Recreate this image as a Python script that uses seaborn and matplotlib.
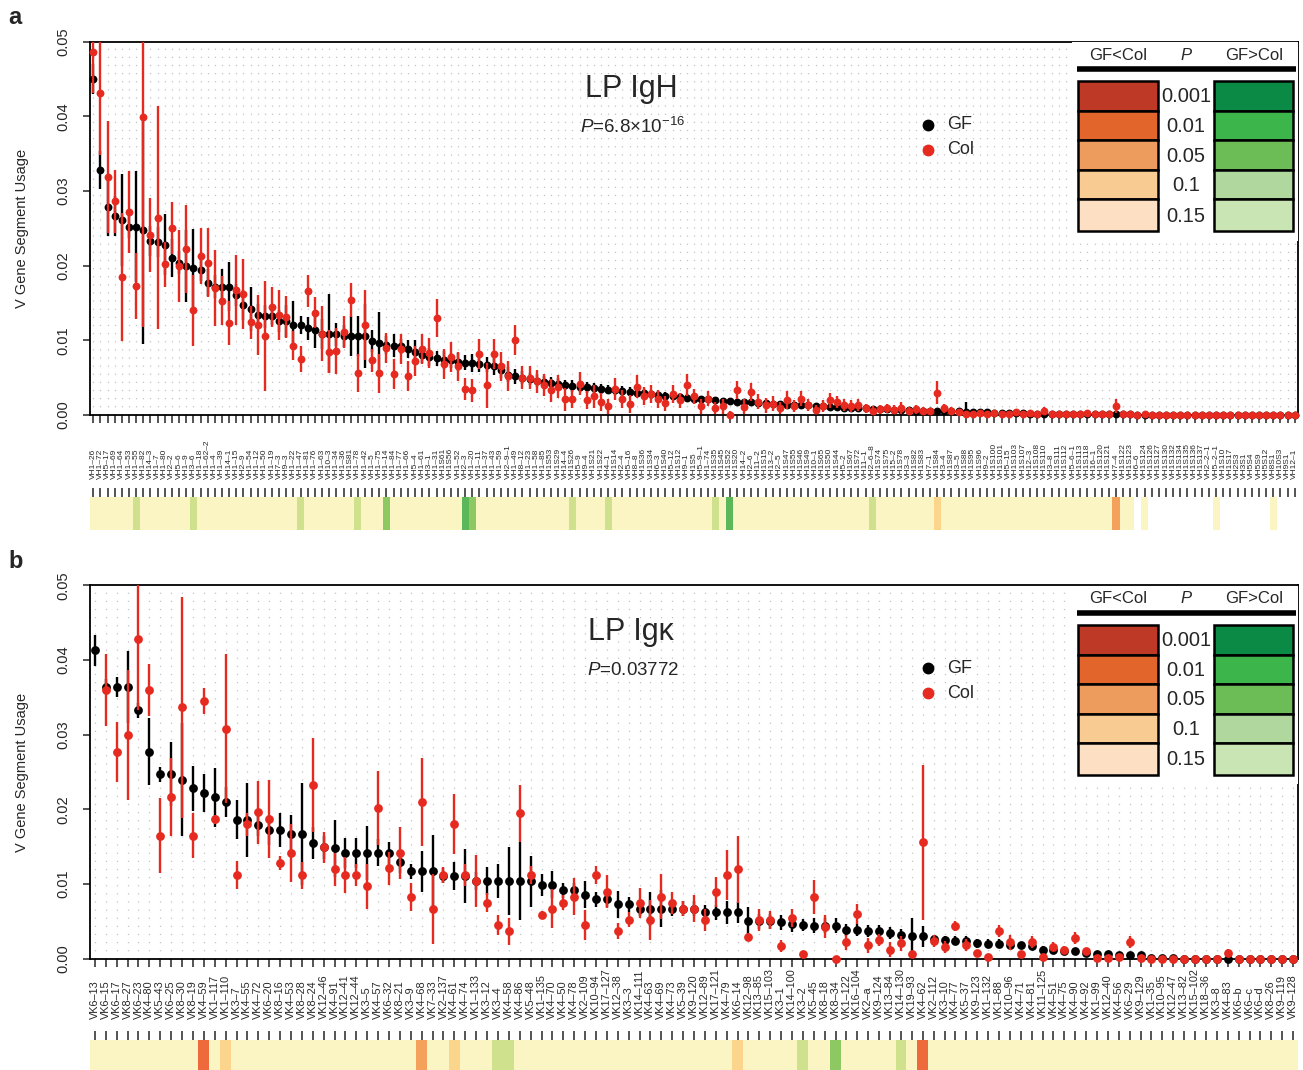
import numpy as np
import pandas as pd
import matplotlib
matplotlib.use("Agg")
import matplotlib.pyplot as plt
import seaborn as sns
from matplotlib.colors import ListedColormap
from matplotlib.patches import Rectangle
from matplotlib.lines import Line2D
import matplotlib.transforms as mtrans

sns.set_style("white")
plt.rcParams['font.family'] = ['Liberation Sans', 'DejaVu Sans']
plt.rcParams['mathtext.fontset'] = 'custom'
plt.rcParams['mathtext.rm'] = 'Liberation Sans'
plt.rcParams['mathtext.it'] = 'Liberation Sans:italic'

# ---------------- Panel a : LP IgH ----------------
genes_a = [
    "VH1-26", "VH1-72", "VH5-17", "VH1-69", "VH1-64", "VH1-53", "VH1-55", "VH1-82", "VH14-3", "VH1-7",
    "VH1-80", "VH2-2", "VH5-6", "VH1-9", "VH3-6", "VH1-18", "VH1-62-2", "VH1-4", "VH1-39", "VH14-1",
    "VH1-15", "VH2-9", "VH1-54", "VH1-12", "VH1-50", "VH1-19", "VH7-3", "VH9-3", "VH1-22", "VH1-47",
    "VH1-81", "VH1-76", "VH1-63", "VH10-3", "VH1-34", "VH1-36", "VH1S81", "VH1-78", "VH1-42", "VH1-5",
    "VH1-75", "VH1-14", "VH1-84", "VH1-77", "VH1-66", "VH5-4", "VH1-61", "VH3-1", "VH1-31", "VH1S61",
    "VH1S56", "VH1-52", "VH2-3", "VH1-20", "VH1-11", "VH1-37", "VH1-43", "VH1-59", "VH2-9-1", "VH1-49",
    "VH8-12", "VH1-23", "VH1-58", "VH1-85", "VH1S53", "VH1S29", "VH14-4", "VH1S26", "VH5-9", "VH9-4",
    "VH1S21", "VH1S22", "VH4-1", "VH1S14", "VH2-4", "VH5-16", "VH8-8", "VH1S36", "VH1S34", "VH6-3",
    "VH1S40", "VH5-12", "VH1S12", "VH9-1", "VH1S5", "VH5-9-1", "VH1-74", "VH1S35", "VH1S45", "VH1S52",
    "VH1S20", "VH14-2", "VH2-6", "VH11-2", "VH1S15", "VH13-2", "VH2-5", "VH1S47", "VH1S55", "VH1S46",
    "VH1S49", "VH10-1", "VH1S65", "VH1S50", "VH1S44", "VH5-2", "VH1S67", "VH1S72", "VH11-1", "VH2-6-8",
    "VH1S74", "VH1S75", "VH15-2", "VH1S78", "VH3-3", "VH1S82", "VH1S83", "VH7-1", "VH1S84", "VH3-4",
    "VH1S87", "VH3-5", "VH1S88", "VH1S95", "VH1S96", "VH9-2", "VH1S100", "VH1S101", "VH5-15", "VH1S103",
    "VH1S107", "VH12-3", "VH1S108", "VH1S110", "VH3-8", "VH1S111", "VH1S112", "VH5-6-1", "VH1S113", "VH1S118",
    "VH16-1", "VH1S120", "VH1S121", "VH7-4", "VH1S122", "VH1S123", "VH6-6", "VH1S124", "VH1S126", "VH1S127",
    "VH1S130", "VH1S132", "VH1S134", "VH1S135", "VH1S136", "VH1S137", "VH2-2-1", "VH5-2-1", "VH1S10", "VH1S17",
    "VH2S3", "VH3S1", "VH5S4", "VH5S9", "VH5S12", "VH8S1", "VH10S3", "VH9S1", "VH12-1",
]

gf_a = [
    0.0450, 0.0328, 0.0278, 0.0266, 0.0261, 0.0252, 0.0252, 0.0247, 0.0233, 0.0232,
    0.0228, 0.0210, 0.0204, 0.0199, 0.0197, 0.0194, 0.0177, 0.0172, 0.0172, 0.0172,
    0.0161, 0.0147, 0.0142, 0.0134, 0.0132, 0.0132, 0.0126, 0.0126, 0.0120, 0.0120,
    0.0116, 0.0114, 0.0109, 0.0109, 0.0108, 0.0106, 0.0106, 0.0106, 0.0106, 0.0099,
    0.0096, 0.0094, 0.0093, 0.0092, 0.0088, 0.0085, 0.0080, 0.0078, 0.0076, 0.0074,
    0.0073, 0.0071, 0.0070, 0.0069, 0.0068, 0.0067, 0.0066, 0.0060, 0.0054, 0.0052,
    0.0050, 0.0048, 0.0046, 0.0044, 0.0043, 0.0042, 0.0040, 0.0039, 0.0038, 0.0037,
    0.0036, 0.0035, 0.0034, 0.0033, 0.0032, 0.0031, 0.0030, 0.0029, 0.0028, 0.0027,
    0.0026, 0.0025, 0.0024, 0.0023, 0.0022, 0.0021, 0.0021, 0.0020, 0.0019, 0.0019,
    0.0018, 0.0017, 0.0017, 0.0016, 0.0016, 0.0015, 0.0015, 0.0014, 0.0014, 0.0013,
    0.0013, 0.0012, 0.0012, 0.0011, 0.0011, 0.0010, 0.0010, 0.0009, 0.0009, 0.0008,
    0.0008, 0.0008, 0.0007, 0.0007, 0.0007, 0.0006, 0.0006, 0.0006, 0.0005, 0.0005,
    0.0005, 0.0005, 0.0004, 0.0004, 0.0004, 0.0004, 0.0003, 0.0003, 0.0003, 0.0003,
    0.0003, 0.0002, 0.0002, 0.0002, 0.0002, 0.0002, 0.0002, 0.0001, 0.0001, 0.0001,
    0.0001, 0.0001, 0.0001, 0.0001, 0.0001, 0.0001, 0.0000, 0.0000, 0.0000, 0.0000,
    0.0000, 0.0000, 0.0000, 0.0000, 0.0000, 0.0000, 0.0000, 0.0000, 0.0000, 0.0000,
    0.0000, 0.0000, 0.0000, 0.0000, 0.0000, 0.0000, 0.0000, 0.0000, 0.0000,
]
gf_err_a = [
    0.0020, 0.0025, 0.0038, 0.0027, 0.0062, 0.0015, 0.0074, 0.0152, 0.0020, 0.0020,
    0.0041, 0.0025, 0.0015, 0.0048, 0.0052, 0.0015, 0.0018, 0.0015, 0.0023, 0.0033,
    0.0015, 0.0020, 0.0030, 0.0015, 0.0015, 0.0012, 0.0015, 0.0021, 0.0033, 0.0012,
    0.0015, 0.0024, 0.0020, 0.0053, 0.0015, 0.0015, 0.0027, 0.0027, 0.0043, 0.0015,
    0.0042, 0.0012, 0.0015, 0.0010, 0.0012, 0.0015, 0.0010, 0.0012, 0.0010, 0.0012,
    0.0010, 0.0012, 0.0010, 0.0012, 0.0010, 0.0010, 0.0012, 0.0010, 0.0010, 0.0010,
    0.0009, 0.0008, 0.0009, 0.0008, 0.0008, 0.0008, 0.0007, 0.0008, 0.0007, 0.0007,
    0.0007, 0.0007, 0.0006, 0.0006, 0.0007, 0.0006, 0.0006, 0.0006, 0.0006, 0.0005,
    0.0005, 0.0005, 0.0005, 0.0005, 0.0005, 0.0005, 0.0004, 0.0004, 0.0004, 0.0004,
    0.0004, 0.0004, 0.0004, 0.0004, 0.0004, 0.0004, 0.0003, 0.0003, 0.0003, 0.0003,
    0.0003, 0.0003, 0.0003, 0.0003, 0.0003, 0.0003, 0.0003, 0.0003, 0.0003, 0.0003,
    0.0003, 0.0003, 0.0002, 0.0002, 0.0002, 0.0002, 0.0002, 0.0002, 0.0002, 0.0002,
    0.0002, 0.0002, 0.0013, 0.0002, 0.0002, 0.0002, 0.0002, 0.0002, 0.0002, 0.0002,
    0.0001, 0.0001, 0.0001, 0.0001, 0.0001, 0.0001, 0.0001, 0.0001, 0.0001, 0.0001,
    0.0001, 0.0001, 0.0001, 0.0001, 0.0001, 0.0001, 0.0000, 0.0000, 0.0000, 0.0000,
    0.0000, 0.0000, 0.0000, 0.0000, 0.0000, 0.0000, 0.0000, 0.0000, 0.0000, 0.0000,
    0.0000, 0.0000, 0.0000, 0.0000, 0.0000, 0.0000, 0.0000, 0.0000, 0.0000,
]
col_a = [
    0.0486, 0.0431, 0.0318, 0.0286, 0.0185, 0.0272, 0.0173, 0.0399, 0.0241, 0.0264,
    0.0202, 0.0250, 0.0199, 0.0222, 0.0140, 0.0213, 0.0204, 0.0170, 0.0153, 0.0123,
    0.0167, 0.0162, 0.0124, 0.0120, 0.0106, 0.0145, 0.0134, 0.0131, 0.0093, 0.0075,
    0.0166, 0.0137, 0.0109, 0.0085, 0.0086, 0.0111, 0.0154, 0.0056, 0.0120, 0.0073,
    0.0056, 0.0090, 0.0055, 0.0088, 0.0052, 0.0072, 0.0088, 0.0083, 0.0130, 0.0068,
    0.0078, 0.0065, 0.0035, 0.0033, 0.0082, 0.0040, 0.0082, 0.0065, 0.0052, 0.0100,
    0.0050, 0.0050, 0.0045, 0.0040, 0.0033, 0.0038, 0.0021, 0.0022, 0.0042, 0.0020,
    0.0025, 0.0018, 0.0012, 0.0035, 0.0022, 0.0015, 0.0038, 0.0025, 0.0028, 0.0022,
    0.0016, 0.0028, 0.0020, 0.0040, 0.0025, 0.0012, 0.0022, 0.0010, 0.0012, 0.0000,
    0.0033, 0.0011, 0.0031, 0.0018, 0.0013, 0.0015, 0.0009, 0.0020, 0.0012, 0.0022,
    0.0014, 0.0007, 0.0012, 0.0020, 0.0017, 0.0014, 0.0012, 0.0013, 0.0009, 0.0006,
    0.0008, 0.0009, 0.0007, 0.0010, 0.0006, 0.0008, 0.0006, 0.0005, 0.0030, 0.0009,
    0.0006, 0.0004, 0.0002, 0.0001, 0.0003, 0.0002, 0.0003, 0.0002, 0.0001, 0.0004,
    0.0002, 0.0003, 0.0002, 0.0006, 0.0002, 0.0001, 0.0002, 0.0001, 0.0002, 0.0003,
    0.0001, 0.0002, 0.0001, 0.0012, 0.0002, 0.0001, 0.0000, 0.0001, 0.0000, 0.0000,
    0.0000, 0.0000, 0.0000, 0.0000, 0.0000, 0.0000, 0.0000, 0.0000, 0.0000, 0.0000,
    0.0000, 0.0000, 0.0000, 0.0000, 0.0000, 0.0000, 0.0000, 0.0000, 0.0000,
]
col_err_a = [
    0.0055, 0.0083, 0.0075, 0.0042, 0.0086, 0.0055, 0.0044, 0.0281, 0.0050, 0.0149,
    0.0030, 0.0035, 0.0048, 0.0059, 0.0047, 0.0038, 0.0046, 0.0051, 0.0033, 0.0029,
    0.0047, 0.0047, 0.0022, 0.0040, 0.0074, 0.0027, 0.0033, 0.0028, 0.0020, 0.0017,
    0.0021, 0.0021, 0.0037, 0.0029, 0.0031, 0.0021, 0.0023, 0.0025, 0.0047, 0.0015,
    0.0026, 0.0020, 0.0020, 0.0020, 0.0020, 0.0020, 0.0020, 0.0020, 0.0025, 0.0020,
    0.0020, 0.0020, 0.0015, 0.0015, 0.0020, 0.0030, 0.0020, 0.0020, 0.0020, 0.0020,
    0.0015, 0.0015, 0.0015, 0.0015, 0.0015, 0.0015, 0.0015, 0.0012, 0.0015, 0.0012,
    0.0015, 0.0012, 0.0010, 0.0015, 0.0012, 0.0012, 0.0015, 0.0012, 0.0012, 0.0012,
    0.0010, 0.0012, 0.0010, 0.0015, 0.0010, 0.0010, 0.0010, 0.0008, 0.0010, 0.0005,
    0.0012, 0.0010, 0.0012, 0.0010, 0.0010, 0.0010, 0.0008, 0.0012, 0.0008, 0.0010,
    0.0008, 0.0006, 0.0008, 0.0010, 0.0008, 0.0008, 0.0008, 0.0008, 0.0006, 0.0006,
    0.0006, 0.0006, 0.0006, 0.0008, 0.0005, 0.0006, 0.0005, 0.0005, 0.0015, 0.0006,
    0.0005, 0.0004, 0.0003, 0.0002, 0.0003, 0.0002, 0.0003, 0.0002, 0.0002, 0.0004,
    0.0002, 0.0003, 0.0002, 0.0005, 0.0002, 0.0001, 0.0002, 0.0001, 0.0002, 0.0003,
    0.0001, 0.0002, 0.0001, 0.0009, 0.0002, 0.0001, 0.0000, 0.0001, 0.0000, 0.0000,
    0.0000, 0.0000, 0.0000, 0.0000, 0.0000, 0.0000, 0.0000, 0.0000, 0.0000, 0.0000,
    0.0000, 0.0000, 0.0000, 0.0000, 0.0000, 0.0000, 0.0000, 0.0000, 0.0000,
]
# strip categories: 0 none, 1 ns, 2 GF>Col p<0.15, 3 p<0.05, 4 p<0.01, 5 GF<Col p<0.1, 6 p<0.05, 7 p<0.01
strip_a = [1] * 169
for i in (7, 15, 30, 38, 68, 73, 88, 110):
    strip_a[i - 1] = 2
for i in (42, 54):
    strip_a[i - 1] = 3
for i in (53, 90):
    strip_a[i - 1] = 4
strip_a[119 - 1] = 5
strip_a[144 - 1] = 6
for i in [147] + list(range(149, 158)) + list(range(159, 166)) + [167, 168, 169]:
    strip_a[i - 1] = 0

# ---------------- Panel b : LP Igk ----------------
genes_b = [
    "VK6-13", "VK6-15", "VK6-17", "VK8-27", "VK6-23", "VK4-80", "VK5-43", "VK6-25", "VK8-30", "VK8-19",
    "VK4-59", "VK1-117", "VK1-110", "VK3-7", "VK4-55", "VK4-72", "VK6-20", "VK8-16", "VK4-53", "VK8-28",
    "VK8-24", "VK12-46", "VK4-91", "VK12-41", "VK12-44", "VK3-5", "VK4-57", "VK6-32", "VK8-21", "VK3-9",
    "VK4-68", "VK7-33", "VK2-137", "VK4-61", "VK4-74", "VK1-133", "VK3-12", "VK3-4", "VK4-58", "VK4-86",
    "VK5-48", "VK1-135", "VK4-70", "VK4-50", "VK4-78", "VK2-109", "VK10-94", "VK17-127", "VK12-38", "VK3-3",
    "VK14-111", "VK4-63", "VK4-69", "VK4-73", "VK5-39", "VK9-120", "VK12-89", "VK17-121", "VK4-79", "VK6-14",
    "VK12-98", "VK13-85", "VK15-103", "VK3-1", "VK14-100", "VK3-2", "VK5-45", "VK8-18", "VK8-34", "VK1-122",
    "VK16-104", "VK2-a", "VK9-124", "VK13-84", "VK14-130", "VK19-93", "VK4-62", "VK2-112", "VK3-10", "VK4-77",
    "VK5-37", "VK9-123", "VK1-132", "VK1-88", "VK10-96", "VK4-71", "VK4-81", "VK11-125", "VK4-51", "VK4-75",
    "VK4-90", "VK4-92", "VK1-99", "VK12-40", "VK4-56", "VK6-29", "VK9-129", "VK1-35", "VK10-95", "VK12-47",
    "VK13-82", "VK15-102", "VK18-36", "VK3-8", "VK4-83", "VK6-b", "VK6-c", "VK6-d", "VK8-26", "VK9-119",
    "VK9-128",
]
gf_b = [
    0.0413, 0.0364, 0.0364, 0.0364, 0.0333, 0.0277, 0.0247, 0.0247, 0.0240, 0.0228,
    0.0222, 0.0216, 0.0210, 0.0186, 0.0186, 0.0179, 0.0172, 0.0172, 0.0167, 0.0167,
    0.0155, 0.0149, 0.0148, 0.0142, 0.0142, 0.0142, 0.0142, 0.0141, 0.0130, 0.0117,
    0.0117, 0.0117, 0.0111, 0.0111, 0.0111, 0.0104, 0.0104, 0.0104, 0.0104, 0.0104,
    0.0104, 0.0099, 0.0099, 0.0092, 0.0092, 0.0086, 0.0080, 0.0080, 0.0073, 0.0073,
    0.0067, 0.0067, 0.0067, 0.0067, 0.0067, 0.0067, 0.0062, 0.0062, 0.0062, 0.0062,
    0.0050, 0.0050, 0.0050, 0.0049, 0.0046, 0.0045, 0.0044, 0.0044, 0.0044, 0.0039,
    0.0039, 0.0037, 0.0037, 0.0034, 0.0032, 0.0030, 0.0030, 0.0026, 0.0025, 0.0024,
    0.0024, 0.0021, 0.0020, 0.0020, 0.0018, 0.0018, 0.0017, 0.0012, 0.0012, 0.0010,
    0.0010, 0.0008, 0.0006, 0.0006, 0.0005, 0.0005, 0.0005, 0.0001, 0.0001, 0.0001,
    0.0000, 0.0000, 0.0000, 0.0000, 0.0000, 0.0000, 0.0000, 0.0000, 0.0000, 0.0000,
    0.0000,
]
gf_err_b = [
    0.0021, 0.0010, 0.0013, 0.0048, 0.0010, 0.0045, 0.0010, 0.0043, 0.0075, 0.0030,
    0.0025, 0.0039, 0.0020, 0.0026, 0.0050, 0.0015, 0.0020, 0.0023, 0.0025, 0.0068,
    0.0022, 0.0015, 0.0038, 0.0020, 0.0020, 0.0036, 0.0018, 0.0015, 0.0015, 0.0010,
    0.0027, 0.0049, 0.0010, 0.0019, 0.0036, 0.0012, 0.0019, 0.0023, 0.0046, 0.0052,
    0.0034, 0.0015, 0.0018, 0.0010, 0.0010, 0.0018, 0.0010, 0.0010, 0.0018, 0.0010,
    0.0010, 0.0023, 0.0025, 0.0010, 0.0010, 0.0010, 0.0010, 0.0010, 0.0016, 0.0014,
    0.0020, 0.0010, 0.0010, 0.0010, 0.0010, 0.0008, 0.0010, 0.0010, 0.0010, 0.0008,
    0.0008, 0.0008, 0.0008, 0.0008, 0.0008, 0.0025, 0.0014, 0.0006, 0.0006, 0.0006,
    0.0006, 0.0006, 0.0006, 0.0006, 0.0005, 0.0005, 0.0005, 0.0005, 0.0005, 0.0004,
    0.0004, 0.0004, 0.0004, 0.0004, 0.0003, 0.0003, 0.0004, 0.0001, 0.0001, 0.0001,
    0.0000, 0.0000, 0.0000, 0.0000, 0.0000, 0.0000, 0.0000, 0.0000, 0.0000, 0.0000,
    0.0000,
]
col_b = [
    np.nan, 0.0360, 0.0277, 0.0300, 0.0428, 0.0360, 0.0165, 0.0217, 0.0337, 0.0165,
    0.0345, 0.0187, 0.0308, 0.0112, 0.0180, 0.0196, 0.0187, 0.0128, 0.0142, 0.0112,
    0.0233, 0.0149, 0.0120, 0.0112, 0.0112, 0.0097, 0.0202, 0.0121, 0.0142, 0.0083,
    0.0210, 0.0067, 0.0112, 0.0180, 0.0112, 0.0104, 0.0075, 0.0045, 0.0037, 0.0195,
    0.0112, 0.0059, 0.0067, 0.0075, 0.0083, 0.0045, 0.0112, 0.0090, 0.0037, 0.0052,
    0.0075, 0.0052, 0.0083, 0.0075, 0.0067, 0.0067, 0.0052, 0.0090, 0.0112, 0.0120,
    0.0029, 0.0052, 0.0052, 0.0017, 0.0054, 0.0006, 0.0083, 0.0043, 0.0000, 0.0022,
    0.0060, 0.0018, 0.0025, 0.0012, 0.0021, 0.0006, 0.0156, 0.0024, 0.0016, 0.0044,
    0.0018, 0.0008, 0.0003, 0.0037, 0.0022, 0.0006, 0.0022, 0.0002, 0.0016, 0.0012,
    0.0028, 0.0010, 0.0001, 0.0001, 0.0002, 0.0022, 0.0001, 0.0000, 0.0000, 0.0000,
    0.0000, 0.0000, 0.0000, 0.0000, 0.0008, 0.0000, 0.0000, 0.0000, 0.0000, 0.0000,
    0.0000,
]
col_err_b = [
    np.nan, 0.0048, 0.0040, 0.0087, 0.0095, 0.0035, 0.0050, 0.0052, 0.0148, 0.0030,
    0.0017, 0.0006, 0.0100, 0.0019, 0.0015, 0.0042, 0.0052, 0.0009, 0.0039, 0.0018,
    0.0063, 0.0021, 0.0022, 0.0024, 0.0015, 0.0030, 0.0050, 0.0022, 0.0035, 0.0019,
    0.0059, 0.0047, 0.0011, 0.0040, 0.0015, 0.0035, 0.0013, 0.0013, 0.0018, 0.0038,
    0.0012, 0.0005, 0.0026, 0.0010, 0.0025, 0.0020, 0.0012, 0.0022, 0.0011, 0.0010,
    0.0020, 0.0027, 0.0030, 0.0015, 0.0010, 0.0018, 0.0015, 0.0020, 0.0033, 0.0045,
    0.0005, 0.0015, 0.0012, 0.0008, 0.0012, 0.0004, 0.0023, 0.0015, 0.0002, 0.0010,
    0.0013, 0.0010, 0.0008, 0.0010, 0.0010, 0.0004, 0.0104, 0.0008, 0.0008, 0.0007,
    0.0008, 0.0004, 0.0002, 0.0008, 0.0010, 0.0004, 0.0008, 0.0002, 0.0006, 0.0005,
    0.0008, 0.0005, 0.0001, 0.0001, 0.0002, 0.0008, 0.0001, 0.0000, 0.0000, 0.0000,
    0.0000, 0.0000, 0.0000, 0.0000, 0.0005, 0.0000, 0.0000, 0.0000, 0.0000, 0.0000,
    0.0000,
]
strip_b = [1] * 111
for i in (38, 39, 66, 75):
    strip_b[i - 1] = 2
strip_b[69 - 1] = 3
for i in (13, 34, 60):
    strip_b[i - 1] = 5
strip_b[31 - 1] = 6
for i in (11, 77):
    strip_b[i - 1] = 7

# legend table
p_levels = ["0.001", "0.01", "0.05", "0.1", "0.15"]
reds = ["#BE3A26", "#E2662C", "#EE9C5E", "#F8CB92", "#FDDFC4"]
greens = ["#0A8A44", "#3CB54A", "#6CBD56", "#B0D89E", "#C9E5B4"]
strip_colors = ["#FFFFFF", "#FAF5C2", "#CFE18D", "#8DC863", "#5CB65A",
                "#FAD58B", "#F3A15B", "#EE6A3D"]

BLACK = "#000000"
RED = "#E62A1F"

W, H = 1303, 1070
fig = plt.figure(figsize=(W / 100, H / 100), dpi=100)


def add_axes_px(x0, y0, x1, y1):
    return fig.add_axes([x0 / W, 1 - y1 / H, (x1 - x0) / W, (y1 - y0) / H])


def ftext(x, y, s, **kw):
    fig.text(x / W, 1 - y / H, s, **kw)


def frect(x0, y0, x1, y1, fc, ec="none", lw=0, z=5):
    fig.add_artist(Rectangle((x0 / W, 1 - y1 / H), (x1 - x0) / W, (y1 - y0) / H,
                             transform=fig.transFigure, facecolor=fc, edgecolor=ec,
                             linewidth=lw, zorder=z))


def draw_panel(top, genes, gf, gf_err, col, col_err, strip, title, ptxt,
               lab_fs, lab_bottom, strip_top, strip_bot, dot_s, lab_letter):
    n = len(genes)
    df = pd.DataFrame({"pos": np.arange(n), "gene": genes, "GF": gf, "GF_err": gf_err,
                       "Col": col, "Col_err": col_err})
    bottom = top + 373.5
    ax = add_axes_px(90, top, 1298, bottom)
    ax.set_xlim(-0.45, n - 0.55)
    ax.set_ylim(0, 0.05)
    # dotted background grid
    ax.vlines(df["pos"], 0, 0.05, colors="#c2c2c2", linestyles=(0, (1, 5.5)), lw=0.9, zorder=0)
    # GF
    ax.vlines(df["pos"], df["GF"] - df["GF_err"], df["GF"] + df["GF_err"], colors=BLACK, lw=1.7, zorder=2)
    sns.scatterplot(data=df, x="pos", y="GF", color=BLACK, s=dot_s, linewidth=0, ax=ax,
                    zorder=3, legend=False, clip_on=False)
    # Col
    dc = df.dropna(subset=["Col"])
    ax.vlines(dc["pos"], dc["Col"] - dc["Col_err"], dc["Col"] + dc["Col_err"], colors=RED, lw=1.7, zorder=4)
    sns.scatterplot(data=dc, x="pos", y="Col", color=RED, s=dot_s, linewidth=0, ax=ax,
                    zorder=5, legend=False, clip_on=False)

    for sp in ax.spines.values():
        sp.set_visible(True)
        sp.set_color("black")
        sp.set_linewidth(1.3)
    ax.set_yticks([0, 0.01, 0.02, 0.03, 0.04, 0.05])
    ax.set_yticklabels(["0.00", "0.01", "0.02", "0.03", "0.04", "0.05"], rotation=90, va="center")
    ax.set_xticks(df["pos"])
    ax.set_xticklabels([])
    ax.tick_params(axis="y", direction="out", length=5, width=1.1, labelsize=10.5, pad=9, left=True)
    ax.tick_params(axis="x", direction="out", length=5.5, width=1.1, bottom=True)
    ax.set_xlabel("")
    ax.set_ylabel("V Gene Segment Usage", fontsize=10.5)
    ax.yaxis.set_label_coords((29 - 90) / 1208, 0.5)

    trans = mtrans.blended_transform_factory(ax.transData, ax.transAxes)
    yl = (bottom - lab_bottom) / 373.5
    for p, g in zip(df["pos"], df["gene"]):
        ax.text(p, yl, g.replace("-", "\u2013"), rotation=90, ha="center", va="bottom",
                fontsize=lab_fs, transform=trans, clip_on=False)

    # significance strip
    sax = add_axes_px(90, strip_top, 1298, strip_bot)
    cmap = ListedColormap(strip_colors)
    sns.heatmap(np.array(strip)[None, :], cmap=cmap, vmin=-0.5, vmax=len(strip_colors) - 0.5,
                cbar=False, ax=sax, xticklabels=False, yticklabels=False)
    sax.set_xlim(0.05, n - 0.05)
    sax.set_xticks(np.arange(n) + 0.5)
    sax.set_xticklabels([])
    sax.xaxis.set_ticks_position("top")
    sax.tick_params(axis="x", top=True, bottom=False, direction="out", length=6.5, width=1.1,
                    labeltop=False, labelbottom=False)
    sax.set_yticks([])

    # panel letter, titles
    ftext(8, top - 24, lab_letter, fontsize=17, fontweight="bold", ha="left", va="center")
    ftext(631, top + 47, title, fontsize=22, ha="center", va="center")
    ftext(633, top + 85, ptxt, fontsize=13.5, ha="center", va="center")

    # GF / Col legend
    for dy, c, lab in ((83, BLACK, "GF"), (108, RED, "Col")):
        fig.add_artist(Line2D([928 / W], [1 - (top + dy) / H], marker="o", ms=7.5, color=c,
                              linestyle="none", transform=fig.transFigure, zorder=6))
        ftext(947, top + dy, lab, fontsize=13, ha="left", va="center", zorder=6)

    # colour key table
    frect(1072, top + 0.8, 1297.5, top + 199, "white", z=5)
    ftext(1118, top + 13.5, "GF<Col", fontsize=12, ha="center", va="center", zorder=6)
    ftext(1186, top + 13.5, "P", fontsize=12, fontstyle="italic", ha="center", va="center", zorder=6)
    ftext(1254, top + 13.5, "GF>Col", fontsize=12, ha="center", va="center", zorder=6)
    fig.add_artist(Line2D([1077 / W, 1296 / W], [1 - (top + 27.5) / H] * 2, color="black", lw=4,
                          transform=fig.transFigure, zorder=6, solid_capstyle="butt"))
    row_edges = [39.2, 69.2, 98.5, 128.5, 157.8, 189.2]
    for k, lev in enumerate(p_levels):
        y0, y1 = top + row_edges[k], top + row_edges[k + 1]
        frect(1078.3, y0, 1158.3, y1, reds[k], ec="black", lw=1.8, z=6)
        frect(1214, y0, 1293.3, y1, greens[k], ec="black", lw=1.8, z=6)
        ftext(1186, (y0 + y1) / 2 + 1, lev, fontsize=14.5, ha="center", va="center", zorder=6)
    return ax


draw_panel(41.5, genes_a, gf_a, gf_err_a, col_a, col_err_a, strip_a, "LP IgH",
           r"$P$=6.8×10$^{-16}$", 6.0, 479, 497, 530, 32, "a")
draw_panel(585.3, genes_b, gf_b, gf_err_b, col_b, col_err_b, strip_b, "LP Ig\u03ba",
           r"$P$=0.03772", 7.8, 1019, 1040, 1071, 40, "b")

fig.savefig("out.png", dpi=100)
